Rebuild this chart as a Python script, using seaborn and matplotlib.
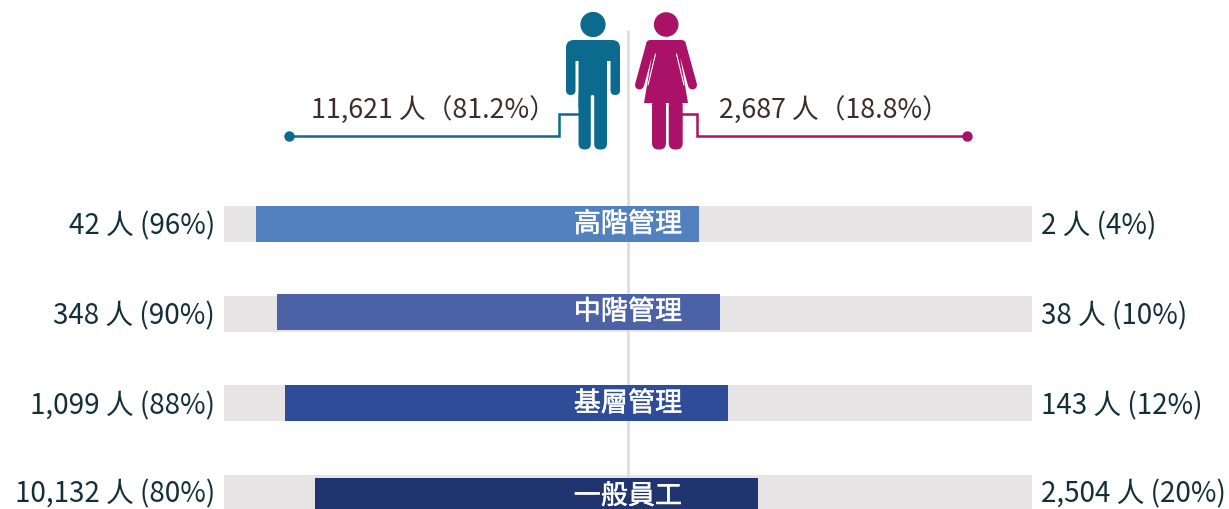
import matplotlib
matplotlib.use("Agg")
import matplotlib.pyplot as plt
from matplotlib.patches import Circle, FancyBboxPatch, Polygon
import matplotlib.patheffects as pe
import pandas as pd
import seaborn as sns

# Data
levels = ["高階管理", "中階管理", "基層管理", "一般員工"]
male_count = [42, 348, 1099, 10132]
male_pct = [96, 90, 88, 80]
female_count = [2, 38, 143, 2504]
female_pct = [4, 10, 12, 20]
# bar extent either side of the centre, as % of the grey track
male_extent = [92.1, 86.9, 84.9, 77.5]
female_extent = [17.6, 22.8, 24.8, 32.2]
track_extent = [100, 100, 100, 100]
male_total = "11,621 人（81.2%）"
female_total = "2,687 人（18.8%）"

bar_colors = ["#5381BD", "#4B62A6", "#2F4C98", "#20346F"]
track_color = "#E6E4E5"
male_color = "#0B6A8D"
female_color = "#A91267"
W, H = 1229, 510
FONT = ["Noto Sans CJK TC", "DejaVu Sans"]

sns.set_theme(style="white")
plt.rcParams["font.family"] = FONT

df = pd.DataFrame({"level": levels, "male": male_extent, "female": female_extent,
                   "track": track_extent})
df["male_neg"] = -df["male"]
df["track_neg"] = -df["track"]

fig = plt.figure(figsize=(W / 100, H / 100), dpi=100)
ax = fig.add_axes([0, 0, 1, 1])

for col in ["track", "track_neg"]:
    sns.barplot(data=df, y="level", x=col, color=track_color, saturation=1,
                width=0.4015, linewidth=0, ax=ax)
n_track = len(ax.patches)
for col in ["male_neg", "female"]:
    sns.barplot(data=df, y="level", x=col, hue="level", palette=bar_colors, saturation=1,
                dodge=False, legend=False, width=0.4015, linewidth=0, ax=ax)

# coloured bars sit slightly off the tracks in the original
shift = [0, -0.022, 0, 0.033]
for i, p in enumerate(ax.patches[n_track:]):
    p.set_y(p.get_y() + shift[i % 4])
    p.set_zorder(3)
for p in ax.patches[:n_track]:
    p.set_zorder(1)

px_x = 4.04
row_px = 89.67
row0 = 225
ax.set_xlim(-628 / px_x, (W - 628) / px_x)
ax.set_ylim((H - row0) / row_px, -row0 / row_px)
ax.axis("off")

# centre line, behind the coloured bars
ax.plot([0, 0], [(32 - row0) / row_px, (H - row0) / row_px], color="#DEDEDE", lw=2, zorder=2)

for i, lev in enumerate(levels):
    dy = 0.02 if i < 3 else 0.005
    ax.text(-102.2, i + dy, f"{male_count[i]:,} 人 ({male_pct[i]}%)", ha="right", va="center",
            fontsize=20, color="#13303A")
    ax.text(102.2, i + dy, f"{female_count[i]:,} 人 ({female_pct[i]}%)", ha="left", va="center",
            fontsize=20, color="#13303A")
    t = ax.text(0, i + shift[i] + 0.005, lev, ha="center", va="center", fontsize=19.5,
                color="white", zorder=5)
    t.set_path_effects([pe.withStroke(linewidth=0.35, foreground="white")])

# pictograms and leader lines in pixel coordinates
ov = fig.add_axes([0, 0, 1, 1])
ov.set_xlim(0, W)
ov.set_ylim(H, 0)
ov.axis("off")
ov.patch.set_alpha(0)


def rbox(x0, y0, x1, y1, r, color):
    ov.add_patch(FancyBboxPatch((x0 + r, y0 + r), x1 - x0 - 2 * r, y1 - y0 - 2 * r,
                                boxstyle=f"round,pad={r},rounding_size={r}",
                                fc=color, ec="none", zorder=4))


# leader lines
ov.plot([289, 559, 559, 580], [136.5, 136.5, 114.5, 114.5], color=male_color, lw=1.8, zorder=3,
        solid_joinstyle="miter")
ov.plot(289, 136.5, "o", color=male_color, ms=7.5, mec="none", zorder=3)
ov.plot([678, 696.5, 696.5, 967], [114.5, 114.5, 136.5, 136.5], color=female_color, lw=1.8, zorder=3,
        solid_joinstyle="miter")
ov.plot(967, 136.5, "o", color=female_color, ms=7.5, mec="none", zorder=3)

# man
ov.add_patch(Circle((593, 25.5), 12.6, fc=male_color, ec="none", zorder=4))
rbox(566, 41, 620, 62, 8, male_color)
rbox(566, 45, 575.5, 96, 4.7, male_color)
rbox(610.5, 45, 620, 96, 4.7, male_color)
rbox(578.5, 45, 607, 110, 0.5, male_color)
rbox(578.5, 90, 591, 150.5, 6, male_color)
rbox(594, 90, 607, 150.5, 6, male_color)
rbox(590.8, 96, 594.2, 151, 1.6, "white")

# woman
ov.add_patch(Circle((666.2, 25.5), 12.3, fc=female_color, ec="none", zorder=4))
rbox(646, 41, 686, 60, 5, female_color)
ov.add_patch(Polygon([(654, 45), (678, 45), (688, 104), (644, 104)], fc=female_color, ec="none", zorder=4))
ov.plot([650.5, 639.5], [46, 86], color=female_color, lw=6.5, solid_capstyle="round", zorder=4)
ov.plot([681.5, 692.5], [46, 86], color=female_color, lw=6.5, solid_capstyle="round", zorder=4)
ov.plot([655.5, 648], [55, 86], color="white", lw=0.8, zorder=4.5)
ov.plot([676.5, 684], [55, 86], color="white", lw=0.8, zorder=4.5)
rbox(652, 100, 666, 150.5, 6.5, female_color)
rbox(668.7, 100, 682.7, 150.5, 6.5, female_color)

ov.text(311, 111, male_total, ha="left", va="center", fontsize=19.3, fontweight="light", color="#3E2B2E")
ov.text(719, 111, female_total, ha="left", va="center", fontsize=19.3, fontweight="light", color="#3E2B2E")

fig.savefig("out.png", dpi=100)
